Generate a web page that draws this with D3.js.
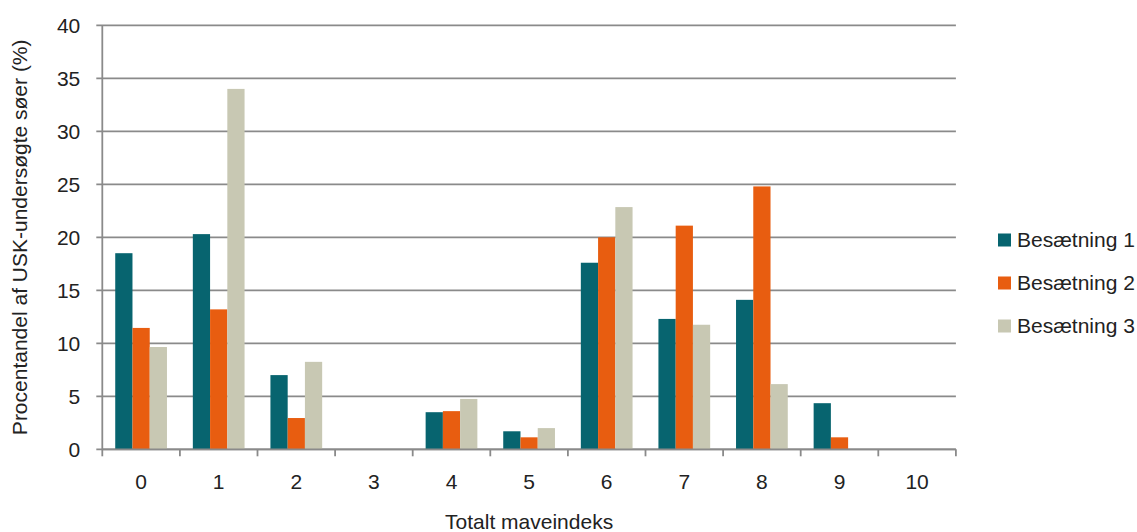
<!DOCTYPE html>
<html><head><meta charset="utf-8">
<script src="https://cdn.jsdelivr.net/npm/d3@7"></script>
<style>body{margin:0;background:#fff;} svg{display:block;font-family:"Liberation Sans",Arial,sans-serif;}</style>
</head><body>
<svg id="chart" width="1137" height="532"></svg>
<script>
const categories = ["0","1","2","3","4","5","6","7","8","9","10"];
const seriesNames = ["Besætning 1","Besætning 2","Besætning 3"];
const besaetning1 = [18.5, 20.3, 7.0, 0, 3.5, 1.7, 17.6, 12.3, 14.1, 4.35, 0];
const besaetning2 = [11.45, 13.2, 2.95, 0, 3.6, 1.13, 20.0, 21.1, 24.8, 1.13, 0];
const besaetning3 = [9.65, 34.0, 8.25, 0, 4.75, 2.0, 22.85, 11.75, 6.15, 0, 0];
const yTicks = [0,5,10,15,20,25,30,35,40];
const colors = ["#07646f","#e85d10","#c8c8b3"];
const seriesValues = [besaetning1, besaetning2, besaetning3];

const svg = d3.select("#chart");
const m = {left:102.3, right:955.9, top:25.3, bottom:449.3};
const gridColor = "#8a8a8a";
const fs = 21;

const x = d3.scaleBand().domain(categories).range([m.left, m.right]).paddingInner(0).paddingOuter(0);
const y = d3.scaleLinear().domain([0,40]).range([m.bottom, m.top]);
const bw = x.bandwidth()/4.5;
const xs = d3.scaleBand().domain(seriesNames).range([0.75*bw, 3.75*bw]);

// gridlines
svg.append("g").selectAll("line").data(yTicks).join("line")
  .attr("x1", m.left-6).attr("x2", m.right)
  .attr("y1", d=>y(d)).attr("y2", d=>y(d))
  .attr("stroke", gridColor).attr("stroke-width", 1.8);

// y axis line
svg.append("line").attr("x1", m.left).attr("x2", m.left).attr("y1", m.top).attr("y2", m.bottom)
  .attr("stroke", gridColor).attr("stroke-width", 1.8);

// y tick labels
svg.append("g").selectAll("text").data(yTicks).join("text")
  .attr("x", m.left-22).attr("y", d=>y(d)).attr("dy","0.35em")
  .attr("text-anchor","end").attr("font-size", fs).attr("fill","#222")
  .text(d=>d);

// bars
const data = [];
categories.forEach((c,i)=>seriesNames.forEach((s,j)=>data.push({c, s, v: seriesValues[j][i], j})));
svg.append("g").selectAll("rect").data(data.filter(d=>d.v>0)).join("rect")
  .attr("x", d=>x(d.c)+xs(d.s)).attr("width", xs.bandwidth())
  .attr("y", d=>y(d.v)).attr("height", d=>y(0)-y(d.v))
  .attr("fill", d=>colors[d.j]);

// x axis
svg.append("line").attr("x1", m.left).attr("x2", m.right).attr("y1", m.bottom).attr("y2", m.bottom)
  .attr("stroke", gridColor).attr("stroke-width", 1.8);
const bounds = categories.map(c=>x(c)).concat([m.right]);
svg.append("g").selectAll("line").data(bounds).join("line")
  .attr("x1", d=>d).attr("x2", d=>d).attr("y1", m.bottom).attr("y2", m.bottom+7)
  .attr("stroke", gridColor).attr("stroke-width", 1.8);
svg.append("g").selectAll("text").data(categories).join("text")
  .attr("x", d=>x(d)+x.bandwidth()/2).attr("y", 482).attr("dy","0.35em")
  .attr("text-anchor","middle").attr("font-size", fs).attr("fill","#222").text(d=>d);

// axis titles
svg.append("text").attr("x", (m.left+m.right)/2).attr("y", 522).attr("dy","0.35em")
  .attr("text-anchor","middle").attr("font-size", fs).attr("fill","#222").text("Totalt maveindeks");
svg.append("text").attr("transform", `translate(20,${(m.top+m.bottom)/2}) rotate(-90)`)
  .attr("dy","0.35em").attr("text-anchor","middle").attr("font-size", fs).attr("fill","#222")
  .text("Procentandel af USK-undersøgte søer (%)");

// legend
const lg = svg.append("g").selectAll("g").data(seriesNames).join("g")
  .attr("transform",(d,i)=>`translate(998,${240+i*43})`);
lg.append("rect").attr("x",0).attr("y",-6.5).attr("width",13).attr("height",13).attr("fill",(d,i)=>colors[i]);
lg.append("text").attr("x",19).attr("y",0).attr("dy","0.35em").attr("font-size", fs).attr("fill","#222").text(d=>d);
</script>
</body></html>
